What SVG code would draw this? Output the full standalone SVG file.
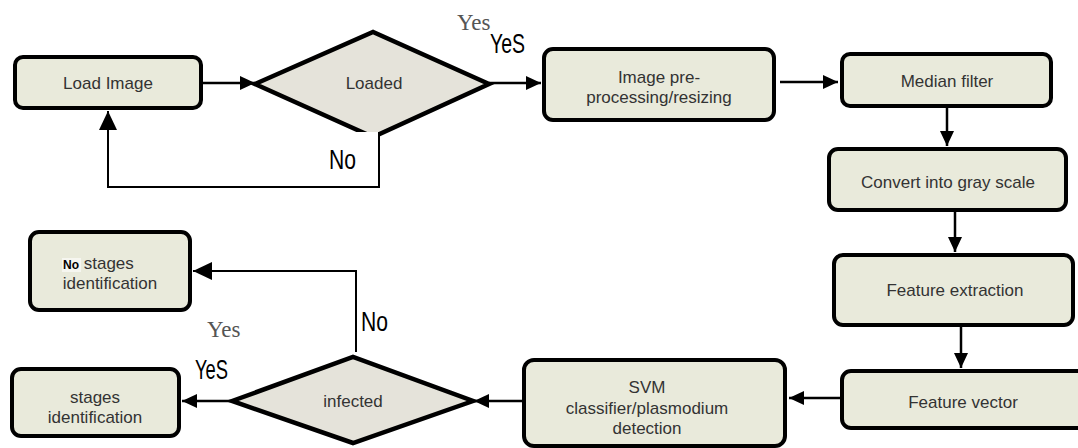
<svg xmlns="http://www.w3.org/2000/svg" width="1078" height="448" viewBox="0 0 1078 448">
<style>
.box{fill:#e9eadb;stroke:#000;stroke-width:4}
.dia{fill:#e5e3da;stroke:#000;stroke-width:4.5;stroke-linejoin:miter}
.t{font-family:"Liberation Sans",Arial,sans-serif;font-size:17px;fill:#333;text-anchor:middle}
.lbl{font-family:"Liberation Sans Narrow","Liberation Sans",sans-serif;font-size:28px;fill:#000}
.ser{font-family:"Liberation Serif","Times New Roman",serif;font-size:23px;fill:#555}
.c{fill:none;stroke:#000;stroke-width:2.5}
.c2{fill:none;stroke:#000;stroke-width:2}
</style>
<defs>
<marker id="ah" markerUnits="userSpaceOnUse" markerWidth="16" markerHeight="14" refX="15" refY="7" orient="auto">
<path d="M0,0 L15,7 L0,14 Z" fill="#000"/>
</marker>
<marker id="ahb" markerUnits="userSpaceOnUse" markerWidth="20" markerHeight="18" refX="19" refY="9" orient="auto">
<path d="M0,0 L19,9 L0,18 Z" fill="#000"/>
</marker>
</defs>

<g id="connectors">
<path class="c" d="M203,83 L255,83" marker-end="url(#ah)"/>
<path class="c" d="M489,83 L541,83" marker-end="url(#ah)"/>
<path class="c" d="M780,82 L838,82" marker-end="url(#ah)"/>
<path class="c" d="M947,108 L947,146" marker-end="url(#ah)"/>
<path class="c" d="M955,212 L955,252" marker-end="url(#ah)"/>
<path class="c" d="M961,327 L961,368" marker-end="url(#ah)"/>
<path class="c" d="M840,398 L789,398" marker-end="url(#ah)"/>
<path class="c" d="M522,401 L474,401" marker-end="url(#ah)"/>
<path class="c" d="M232,401 L182,401" marker-end="url(#ah)"/>
<path class="c2" d="M356,352 L356,271 L193,271" marker-end="url(#ahb)"/>
</g>

<g id="node-load"><rect class="box" x="15" y="57" width="186" height="51" rx="8"/><text class="t" x="108" y="89">Load Image</text></g>

<g id="node-loaded">
<polygon class="dia" points="255,84 373,32 489,84 373,137"/>
<text class="t" x="374" y="89">Loaded</text>
<rect x="300" y="132" width="79" height="56" fill="#fff"/>
<path class="c2" d="M379,132 L379,187 L108,187 L108,111" marker-end="url(#ahb)"/>
</g>

<g id="node-pre"><rect class="box" x="544" y="49" width="230" height="71" rx="9"/><text class="t" x="659" y="83">Image pre-</text><text class="t" x="659" y="103">processing/resizing</text></g>

<g id="node-median"><rect class="box" x="842" y="54" width="209" height="52" rx="8"/><text class="t" x="947" y="87">Median filter</text></g>

<g id="node-gray"><rect class="box" x="829" y="149" width="237" height="61" rx="9"/><text class="t" x="948" y="188">Convert into gray scale</text></g>

<g id="node-feature"><rect class="box" x="834" y="255" width="239" height="70" rx="9"/><text class="t" x="955" y="296">Feature extraction</text></g>

<g id="node-vector"><rect class="box" x="842" y="371" width="245" height="57" rx="9"/><text class="t" x="963" y="408">Feature vector</text></g>

<g id="node-svm"><rect class="box" x="524" y="360" width="261" height="86" rx="10"/><text class="t" x="647" y="393">SVM</text><text class="t" x="647" y="414">classifier/plasmodium</text><text class="t" x="647" y="434">detection</text></g>

<g id="node-infected"><polygon class="dia" points="232,401 353,357 473,401 353,443"/><text class="t" x="353" y="407">infected</text></g>

<g id="node-nostages"><rect class="box" x="30" y="232" width="160" height="78" rx="9"/>
<rect x="62" y="258" width="19" height="14" fill="#f6f6f0"/>
<text class="t" x="63" y="269" text-anchor="start" style="text-anchor:start"><tspan font-weight="bold" font-size="12" fill="#000">No</tspan> stages</text><text class="t" x="110" y="289">identification</text></g>

<g id="node-stages"><rect class="box" x="12" y="369" width="167" height="67" rx="9"/><text class="t" x="95" y="403">stages</text><text class="t" x="95" y="423">identification</text></g>

<g id="labels">
<text class="ser" x="457" y="30">Yes</text>
<text class="lbl" x="490" y="53" textLength="35" lengthAdjust="spacingAndGlyphs">YeS</text>
<text class="lbl" x="329" y="169" textLength="27" lengthAdjust="spacingAndGlyphs">No</text>
<text class="lbl" x="361" y="331" textLength="27" lengthAdjust="spacingAndGlyphs">No</text>
<text class="ser" x="207" y="337">Yes</text>
<text class="lbl" x="195" y="379" textLength="33" lengthAdjust="spacingAndGlyphs">YeS</text>
</g>
</svg>
